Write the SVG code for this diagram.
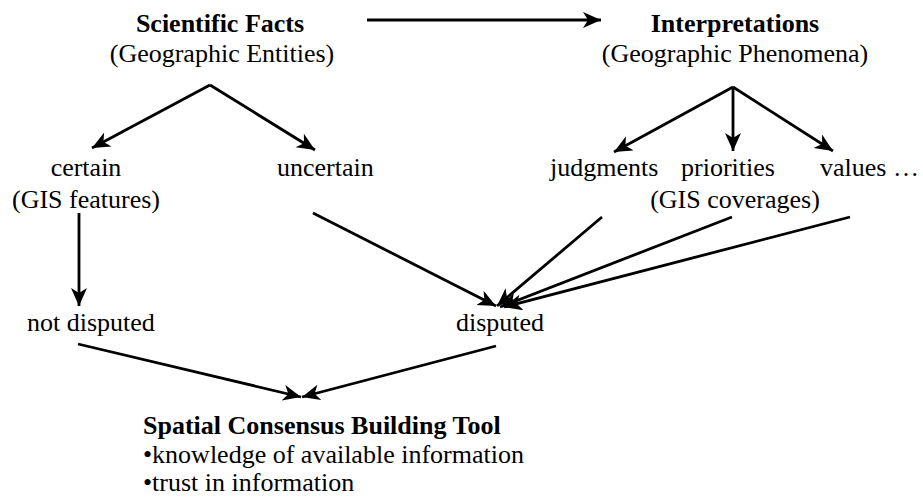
<svg xmlns="http://www.w3.org/2000/svg" width="923" height="499" viewBox="0 0 923 499">
  <defs>
    <style>
      text { font-family: "Liberation Serif", "Times New Roman", serif; font-size: 26px; fill: #000; }
      .b { font-weight: bold; }
      .m { text-anchor: middle; }
      .edge { stroke: #000; stroke-width: 2.8; fill: none; marker-end: url(#head); }
    </style>
    <!-- notched, filled arrowhead shared by every connector -->
    <marker id="head" markerUnits="userSpaceOnUse" markerWidth="20" markerHeight="18" refX="18" refY="8" orient="auto">
      <path d="M0,0 L18,8 L0,16 L5,8 Z" fill="#000"/>
    </marker>
  </defs>
  <rect width="923" height="499" fill="#fff"/>

  <g id="connectors">
    <line class="edge" x1="367" y1="20" x2="601" y2="20"/>
    <line class="edge" x1="210" y1="85" x2="92" y2="148"/>
    <line class="edge" x1="210" y1="85" x2="315" y2="150"/>
    <line class="edge" x1="733" y1="87" x2="614" y2="152"/>
    <line class="edge" x1="733" y1="87" x2="733" y2="151"/>
    <line class="edge" x1="733" y1="87" x2="833" y2="151"/>
    <line class="edge" x1="79" y1="213" x2="79" y2="306"/>
    <line class="edge" x1="313" y1="213" x2="496" y2="306"/>
    <line class="edge" x1="602" y1="217" x2="497" y2="306"/>
    <line class="edge" x1="732" y1="217" x2="500" y2="307"/>
    <line class="edge" x1="850" y1="217" x2="504" y2="307"/>
    <line class="edge" x1="78" y1="344" x2="301" y2="397"/>
    <line class="edge" x1="496" y1="346" x2="302" y2="397"/>
  </g>

  <g id="scientific-facts">
    <text class="b m" x="220" y="32">Scientific Facts</text>
    <text class="m" x="222" y="62">(Geographic Entities)</text>
  </g>
  <g id="interpretations">
    <text class="b m" x="735" y="32">Interpretations</text>
    <text class="m" x="735" y="62">(Geographic Phenomena)</text>
  </g>
  <g id="certain">
    <text class="m" x="86" y="176">certain</text>
    <text class="m" x="86" y="208">(GIS features)</text>
  </g>
  <g id="uncertain">
    <text x="277" y="176">uncertain</text>
  </g>
  <g id="judgments">
    <text x="550" y="176">judgments</text>
  </g>
  <g id="priorities">
    <text x="681" y="176">priorities</text>
    <text class="m" x="735" y="208">(GIS coverages)</text>
  </g>
  <g id="values">
    <text x="820" y="176">values …</text>
  </g>
  <g id="not-disputed">
    <text x="27" y="331">not disputed</text>
  </g>
  <g id="disputed">
    <text x="456" y="331">disputed</text>
  </g>
  <g id="consensus-tool">
    <text class="b" x="143" y="434">Spatial Consensus Building Tool</text>
    <text x="143" y="463">•knowledge of available information</text>
    <text x="143" y="491">•trust in information</text>
  </g>
</svg>
